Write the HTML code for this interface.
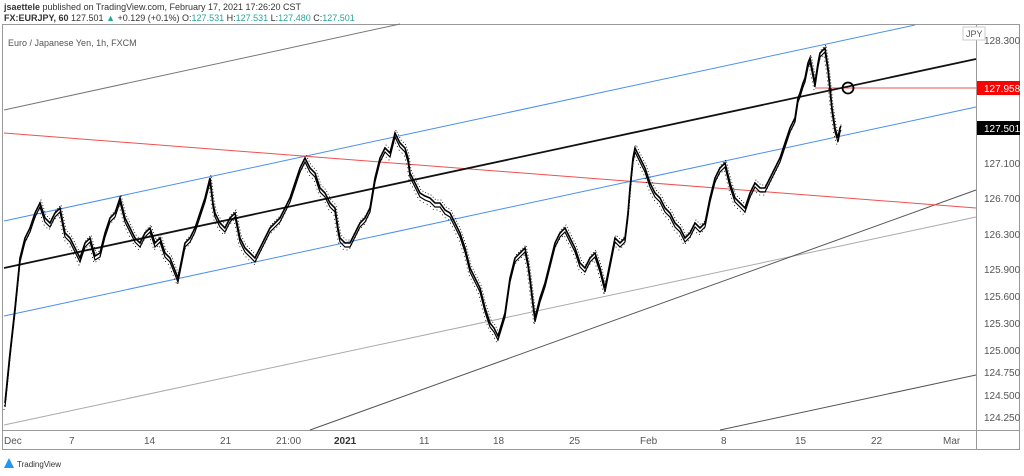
<!DOCTYPE html><html><head><style>body{margin:0;background:#fff;width:1024px;height:471px;overflow:hidden;font-family:"Liberation Sans",sans-serif}</style></head><body>
<svg width="1024" height="471" xmlns="http://www.w3.org/2000/svg" font-family="Liberation Sans, sans-serif">
<defs><polyline id="p" points="5,405 10,355 15,310 20,260 25,240 30,230 35,215 40,205 45,220 50,225 55,215 60,210 65,235 70,240 75,250 80,260 85,245 90,240 95,258 100,255 105,235 110,220 115,215 120,200 125,220 130,230 135,240 140,245 145,235 150,230 155,245 160,240 165,255 170,260 174,270 178,280 182,260 185,245 190,240 195,230 200,215 205,200 210,180 213,205 215,215 220,225 225,230 230,220 235,215 240,240 245,250 250,255 255,260 260,250 265,240 270,230 275,225 280,220 285,210 290,200 295,185 300,170 305,160 310,170 315,175 320,190 325,195 330,205 335,210 338,230 340,240 345,245 350,245 355,235 360,225 365,220 370,210 375,180 380,160 385,150 390,155 395,135 400,145 405,150 408,160 410,175 415,185 420,195 425,198 430,200 435,205 440,205 445,212 450,215 455,225 460,235 465,250 470,270 475,280 480,290 485,310 490,325 494,330 498,338 502,325 505,315 510,280 515,260 520,255 525,250 528,265 530,280 533,305 535,320 540,300 545,285 550,265 555,245 560,235 565,230 570,240 575,250 580,265 585,270 590,260 595,255 600,270 605,290 610,265 615,240 620,245 625,240 628,215 630,190 633,160 635,150 640,160 645,170 650,185 655,195 660,200 665,210 670,215 675,225 680,230 685,240 690,235 695,225 700,230 705,225 710,200 715,180 720,170 725,165 730,185 735,200 740,205 745,210 750,195 755,185 760,190 765,190 770,180 775,170 780,160 785,145 790,130 795,120 798,100 800,95 803,85 805,80 808,65 810,60 813,75 815,85 818,65 820,55 823,52 825,50 828,70 830,90 832,110 835,130 838,140 840,130 841,128"/></defs>
<text x="4" y="10" font-size="9" fill="#333"><tspan font-weight="bold">jsaettele</tspan> published on TradingView.com, February 17, 2021 17:26:20 CST</text>
<text x="4" y="21" font-size="9" fill="#333"><tspan font-weight="bold">FX:EURJPY, 60</tspan> 127.501 <tspan fill="#26a69a">▲</tspan> +0.129 (+0.1%) O:<tspan fill="#26a69a">127.531</tspan> H:<tspan fill="#26a69a">127.531</tspan> L:<tspan fill="#26a69a">127.480</tspan> C:<tspan fill="#26a69a">127.501</tspan></text>
<rect x="2.5" y="24.5" width="1017" height="425" fill="none" stroke="#999"/>
<line x1="976.5" y1="24" x2="976.5" y2="450" stroke="#999"/>
<line x1="2" y1="430.5" x2="1020" y2="430.5" stroke="#999"/>
<text x="8" y="46" font-size="9" fill="#555">Euro / Japanese Yen, 1h, FXCM</text>
<g stroke-width="1" fill="none">
<line x1="4" y1="110" x2="400" y2="24" stroke="#777"/>
<line x1="4" y1="425" x2="976" y2="217" stroke="#aaa"/>
<line x1="310" y1="430" x2="976" y2="190" stroke="#555"/>
<line x1="720" y1="430" x2="976" y2="375" stroke="#555"/>
<line x1="4" y1="221" x2="915" y2="25" stroke="#4a8ff0"/>
<line x1="4" y1="316" x2="976" y2="107" stroke="#4a8ff0"/>
<line x1="4" y1="133" x2="976" y2="208" stroke="#f05050"/>
<line x1="815" y1="88" x2="976" y2="88" stroke="#f05050"/>
<line x1="4" y1="268" x2="976" y2="59" stroke="#111" stroke-width="1.8"/>
<circle cx="848" cy="88" r="5.5" stroke="#000" stroke-width="1.8"/>
<use href="#p" stroke="#000" stroke-width="1.6" transform="translate(0,-2)"/>
<use href="#p" stroke="#000" stroke-width="1.2" transform="translate(0,2)"/>
<use href="#p" stroke="#000" stroke-width="0.8" stroke-dasharray="1 2" transform="translate(1,-5)"/>
<use href="#p" stroke="#000" stroke-width="0.8" stroke-dasharray="1 3" transform="translate(-1,5)"/>
</g>
<g font-size="10" fill="#555">
<text x="984" y="44">128.300</text>
<text x="984" y="167">127.100</text>
<text x="984" y="202">126.700</text>
<text x="984" y="238">126.300</text>
<text x="984" y="273">125.900</text>
<text x="984" y="300">125.600</text>
<text x="984" y="327">125.300</text>
<text x="984" y="354">125.000</text>
<text x="984" y="376">124.750</text>
<text x="984" y="399">124.500</text>
<text x="984" y="421">124.250</text>
</g>
<rect x="963" y="27" width="22" height="13" fill="#fff" stroke="#ccc"/>
<text x="966" y="37" font-size="9" fill="#555">JPY</text>
<rect x="977" y="81" width="43" height="14" fill="#f00"/>
<text x="984" y="92" font-size="10" fill="#fff">127.958</text>
<rect x="977" y="121" width="43" height="14" fill="#000"/>
<text x="984" y="132" font-size="10" fill="#fff">127.501</text>
<g font-size="10" fill="#555">
<text x="4" y="444">Dec</text><text x="69" y="444">7</text><text x="144" y="444">14</text><text x="220" y="444">21</text><text x="276" y="444">21:00</text><text x="334" y="444" font-weight="bold" fill="#333">2021</text><text x="419" y="444">11</text><text x="493" y="444">18</text><text x="569" y="444">25</text><text x="640" y="444">Feb</text><text x="721" y="444">8</text><text x="795" y="444">15</text><text x="871" y="444">22</text><text x="943" y="444">Mar</text>
</g>
<path d="M4 468 L9 458 L14 468 Z" fill="#2196f3"/>
<text x="17" y="467" font-size="8" fill="#333">TradingView</text>
</svg></body></html>
